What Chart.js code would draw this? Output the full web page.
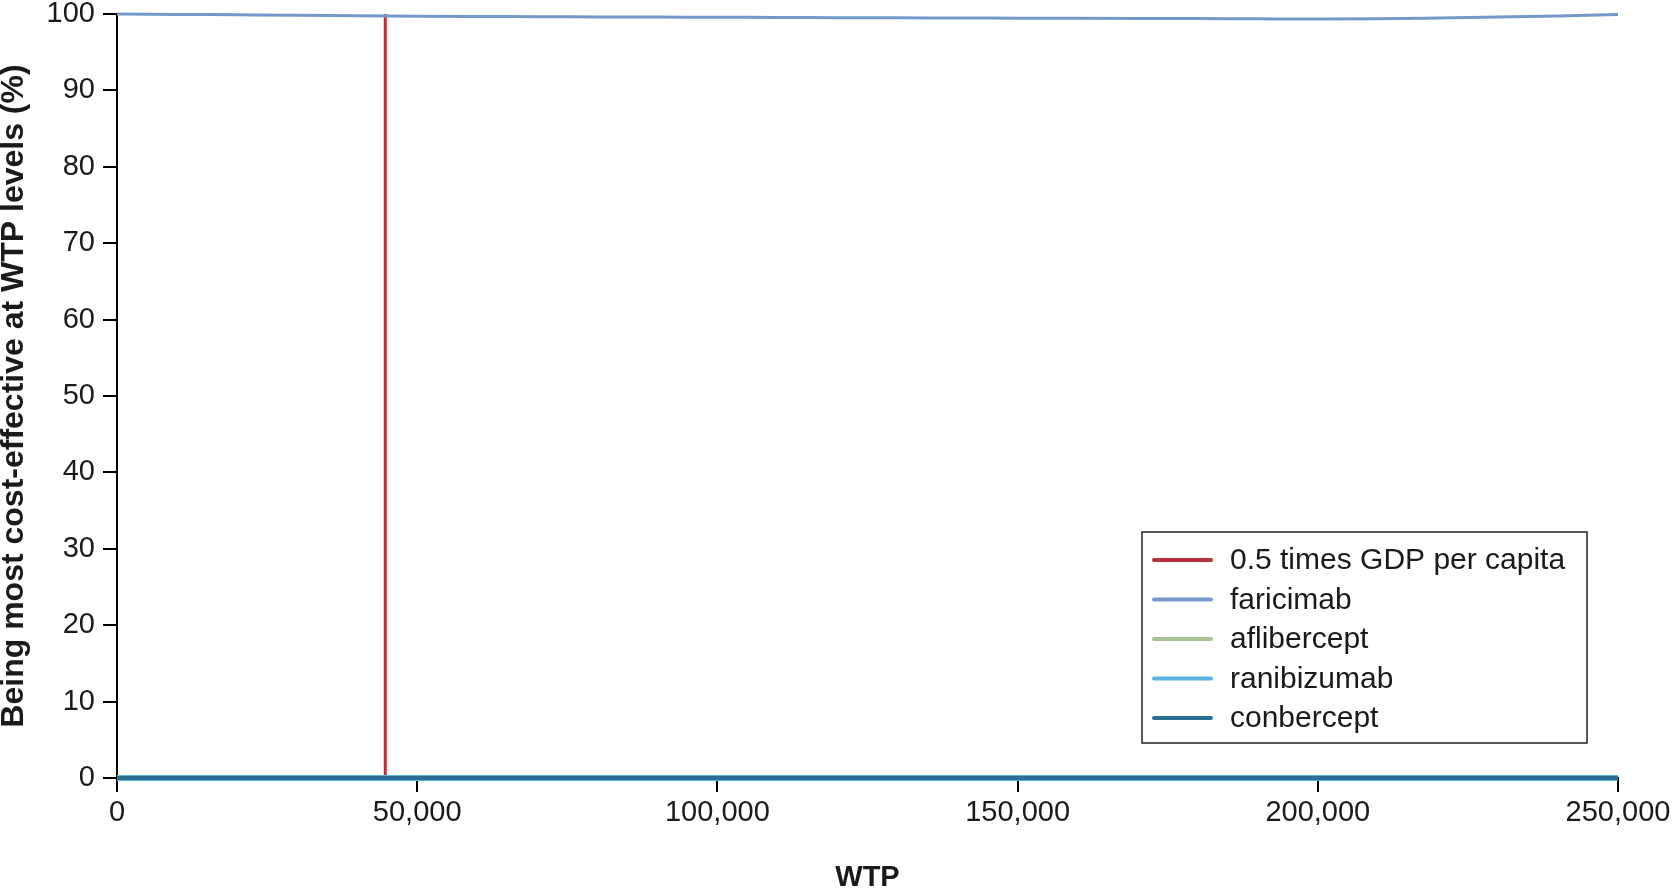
<!DOCTYPE html>
<html>
<head>
<meta charset="utf-8">
<script src="https://cdn.jsdelivr.net/npm/chart.js@4"></script>
<style>
  html, body { margin: 0; padding: 0; background: #fff; }
  #wrap { width: 1676px; height: 889px; }
</style>
</head>
<body>
<div id="wrap"><canvas id="grafico"></canvas></div>
<script>
// WTP levels (x) and probability of being most cost-effective (%)
const wtp = [0, 10000, 20000, 30000, 40000, 50000, 60000, 70000, 80000, 90000, 100000,
  110000, 120000, 130000, 140000, 150000, 160000, 170000, 180000, 190000, 200000,
  210000, 220000, 230000, 240000, 250000];
const faricimab = [100, 99.95, 99.9, 99.85, 99.78, 99.72, 99.68, 99.65, 99.62, 99.6, 99.57,
  99.55, 99.52, 99.5, 99.48, 99.46, 99.44, 99.42, 99.4, 99.37, 99.35,
  99.38, 99.48, 99.6, 99.74, 99.92];
const aflibercept = [0, 0, 0, 0, 0, 0, 0, 0, 0, 0, 0, 0, 0, 0, 0, 0, 0, 0, 0, 0, 0, 0, 0, 0, 0, 0];
const ranibizumab = [0, 0, 0, 0, 0, 0, 0, 0, 0, 0, 0, 0, 0, 0, 0, 0, 0, 0, 0, 0, 0, 0, 0, 0, 0, 0];
const conbercept = [0, 0, 0, 0, 0, 0, 0, 0, 0, 0, 0, 0, 0, 0, 0, 0, 0, 0, 0, 0, 0, 0, 0, 0, 0, 0];

// umbral: 0.5 veces el PIB per cápita
const gdpHalf = 44679;
const gdpLine = [0, 100];

const xTicks = [0, 50000, 100000, 150000, 200000, 250000];
const yTicks = [0, 10, 20, 30, 40, 50, 60, 70, 80, 90, 100];

const FONT = "'Liberation Sans', Arial, Helvetica, sans-serif";

function puntos(ys) {
    return wtp.map((x, i) => ({ x: x, y: ys[i] }));
}

// leyenda dibujada dentro del área del gráfico
const leyendaPlugin = {
    id: "leyendaCaja",
    afterDraw(chart) {
        const ctx = chart.ctx;
        const area = chart.chartArea;
        const right = area.right - 31;
        const bottom = area.bottom - 35;
        const left = right - 445;
        const top = bottom - 211;
        ctx.save();
        ctx.strokeStyle = "#222";
        ctx.lineWidth = 1.5;
        ctx.strokeRect(left, top, right - left, bottom - top);
        ctx.font = "30px " + FONT;
        ctx.textBaseline = "middle";
        ctx.textAlign = "left";
        ctx.lineCap = "round";
        chart.data.datasets.forEach((ds, i) => {
            const y = top + 28 + i * 39.5;
            ctx.strokeStyle = ds.borderColor;
            ctx.lineWidth = 4;
            ctx.beginPath();
            ctx.moveTo(left + 12, y);
            ctx.lineTo(left + 69, y);
            ctx.stroke();
            ctx.fillStyle = "#1a1a1a";
            ctx.fillText(ds.label, left + 88, y + 1);
        });
        ctx.restore();
    }
};

const ctx = document.getElementById("grafico").getContext("2d");
new Chart(ctx, {
    type: "line",
    data: {
        datasets: [
            {
                label: "0.5 times GDP per capita",
                data: gdpLine.map(v => ({ x: gdpHalf, y: v })),
                borderColor: "#b8303a",
                borderWidth: 3,
                order: 4
            },
            {
                label: "faricimab",
                data: puntos(faricimab),
                borderColor: "#7399c8",
                borderWidth: 3,
                cubicInterpolationMode: "monotone",
                order: 1
            },
            {
                label: "aflibercept",
                data: puntos(aflibercept),
                borderColor: "#a8c291",
                borderWidth: 3,
                order: 3
            },
            {
                label: "ranibizumab",
                data: puntos(ranibizumab),
                borderColor: "#5bb4df",
                borderWidth: 6,
                order: 2
            },
            {
                label: "conbercept",
                data: puntos(conbercept),
                borderColor: "#2b6f94",
                borderWidth: 4,
                order: 0
            }
        ]
    },
    options: {
        responsive: true,
        maintainAspectRatio: false,
        animation: false,
        clip: false,
        layout: { padding: { left: 0, top: 14, right: 58, bottom: 0 } },
        elements: { point: { radius: 0 } },
        plugins: {
            legend: { display: false },
            tooltip: { enabled: false }
        },
        scales: {
            x: {
                type: "linear",
                min: 0,
                max: 250000,
                afterFit(scale) { scale.height = 111; },
                afterBuildTicks(scale) { scale.ticks = xTicks.map(v => ({ value: v })); },
                grid: { display: true, drawOnChartArea: false, drawTicks: true, tickLength: 14, color: "#000", lineWidth: 2 },
                border: { display: true, color: "#000", width: 2 },
                ticks: {
                    color: "#1a1a1a",
                    padding: 4,
                    maxRotation: 0,
                    font: { family: FONT, size: 29 },
                    callback: v => v.toLocaleString("en-US")
                },
                title: {
                    display: true,
                    text: "WTP",
                    color: "#1a1a1a",
                    padding: 0,
                    font: { family: FONT, size: 29, weight: "bold", lineHeight: 0.76 }
                }
            },
            y: {
                type: "linear",
                min: 0,
                max: 100,
                afterFit(scale) { scale.width = 117; scale.paddingTop = 0; },
                afterBuildTicks(scale) { scale.ticks = yTicks.map(v => ({ value: v })); },
                grid: { display: true, drawOnChartArea: false, drawTicks: true, tickLength: 14, color: "#000", lineWidth: 2 },
                border: { display: true, color: "#000", width: 2 },
                ticks: {
                    color: "#1a1a1a",
                    padding: 8,
                    font: { family: FONT, size: 29 }
                },
                title: {
                    display: true,
                    text: "Being most cost-effective at WTP levels (%)",
                    color: "#1a1a1a",
                    padding: 0,
                    font: { family: FONT, size: 32, weight: "bold", lineHeight: 0.9 }
                }
            }
        }
    },
    plugins: [leyendaPlugin]
});
</script>
</body>
</html>
